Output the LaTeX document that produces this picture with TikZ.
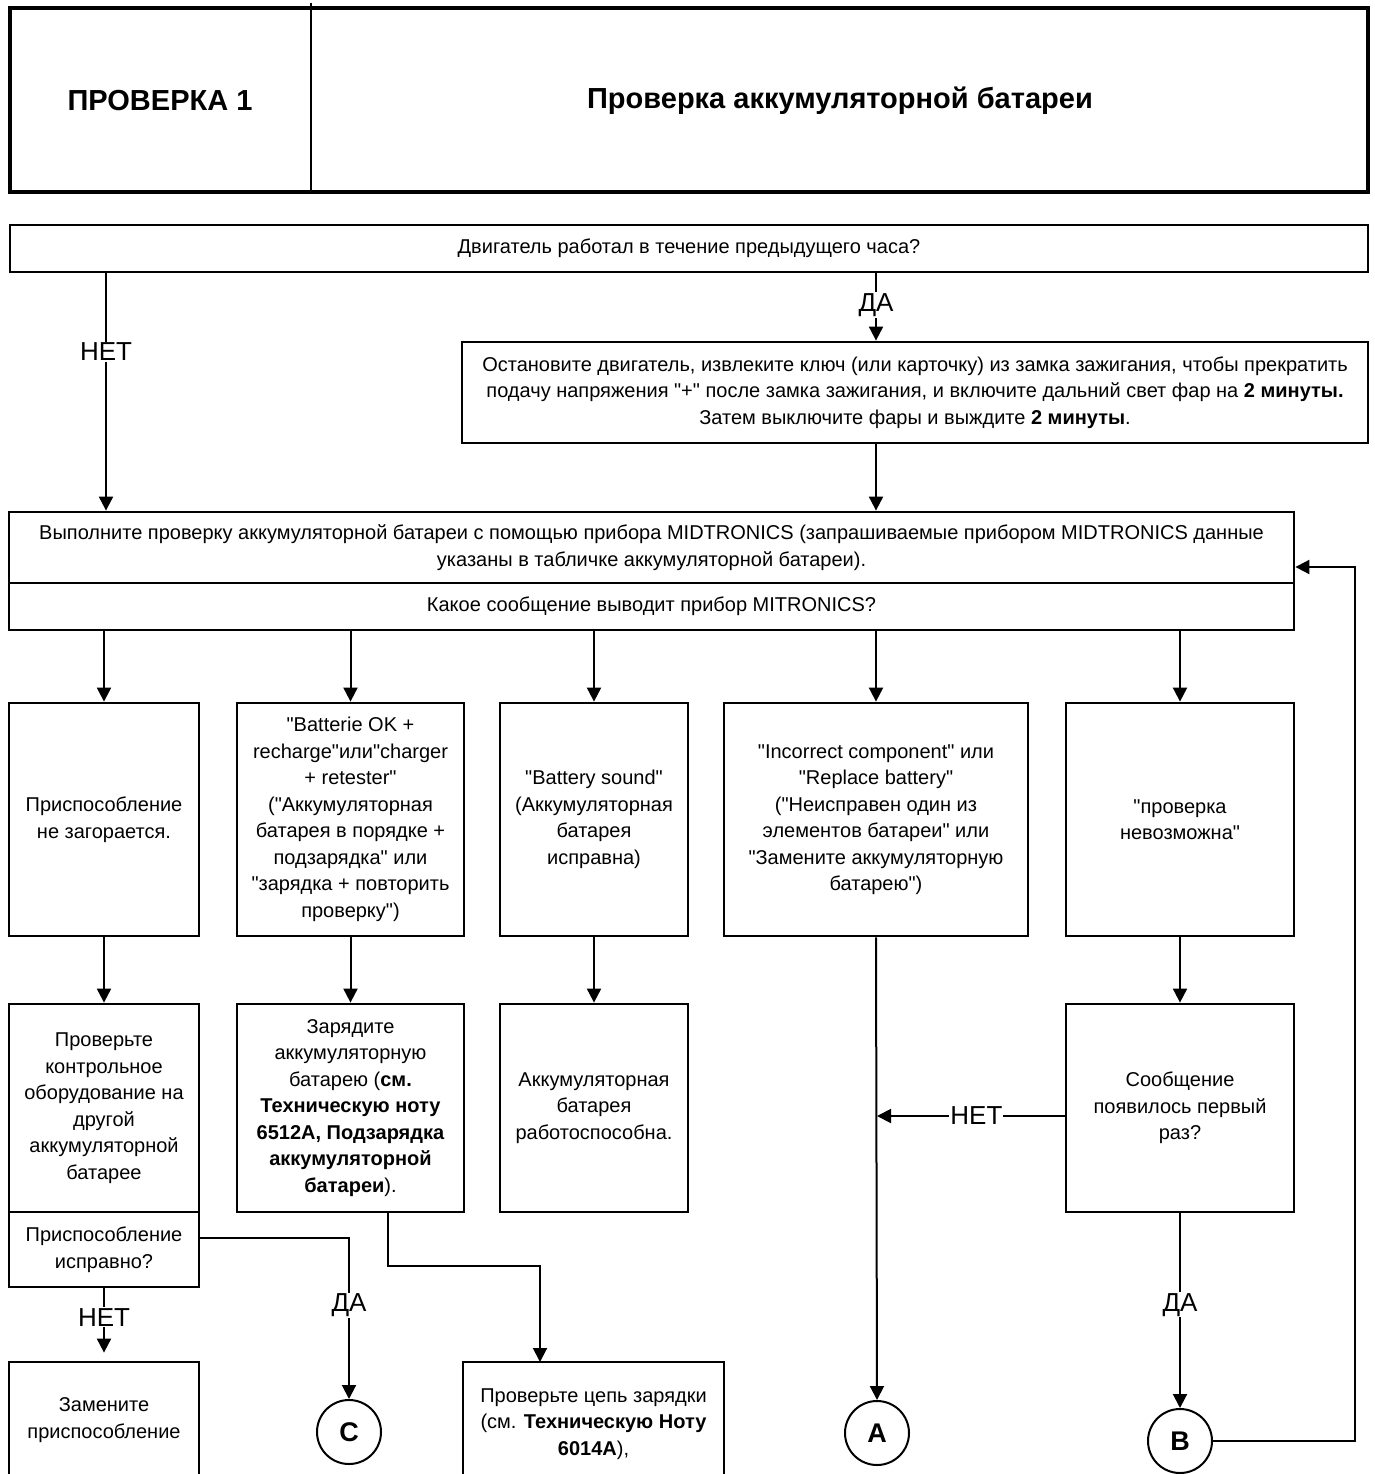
\documentclass[tikz,border=0pt]{standalone}
\usepackage{fontspec}
\setmainfont{Liberation Sans}[Ligatures=TeXOff]
\usetikzlibrary{arrows.meta}
\newcommand{\boxtext}{\fontsize{20}{26.5}\selectfont}
\newcommand{\labeltext}{\fontsize{26}{28}\selectfont}
\newcommand{\headtext}{\fontsize{29}{32}\selectfont\bfseries}

\begin{document}
\begin{tikzpicture}[x=1pt, y=-1pt,
  box/.style={draw, line width=2.8pt, align=center, inner sep=0pt, font=\boxtext},
  link/.style={line width=2pt},
  arr/.style={link, -{Triangle[width=14pt,length=14pt]}},
  lbl/.style={fill=white, inner sep=1pt, font=\labeltext},
  conn/.style={draw, circle, line width=2pt, minimum size=64pt, inner sep=0pt,
    font=\fontsize{27}{30}\selectfont\bfseries}]
  \useasboundingbox (0,0) rectangle (1375,1474);
  \clip (0,0) rectangle (1375,1474);

  % -=-=-=-=- HEADER -=-=-=-=-
  \node[box, line width=3.2pt, minimum width=1358, minimum height=184] (head) at (689,100) {};
  \coordinate (split) at (311,3);
  \draw[line width=2pt] (split) -- (split |- head.south);
  \node[font=\headtext] (num) at (160,101) {ПРОВЕРКА 1};
  \node[font=\headtext] (title) at (840,101) {Проверка аккумуляторной батареи};

  % -=-=-=-=- QUESTION AND TEST -=-=-=-=-
  \node[box, minimum width=1358, minimum height=47] (q) at (689,248.5)
    {Двигатель работал в течение предыдущего часа?};
  \node[box, minimum width=906, minimum height=101] (stop) at (915,392.5)
    {Остановите двигатель, извлеките ключ (или карточку) из замка зажигания, чтобы прекратить\\
     подачу напряжения "+" после замка зажигания, и включите дальний свет фар на \textbf{2 минуты.}\\
     Затем выключите фары и выждите \textbf{2 минуты}.};
  \node[box, minimum width=1285, minimum height=71] (midt) at (651.5,547.5)
    {Выполните проверку аккумуляторной батареи с помощью прибора MIDTRONICS (запрашиваемые прибором MIDTRONICS данные\\
     указаны в табличке аккумуляторной батареи).};
  \node[box, minimum width=1285, minimum height=47] (msg) at (651.5,606.5)
    {Какое сообщение выводит прибор MITRONICS?};

  % -=-=-=-=- FIRST ROW -=-=-=-=-
  \node[box, minimum width=190, minimum height=233] (a) at (104,819.5)
    {Приспособление\\ не загорается.};
  \node[box, minimum width=227, minimum height=233] (b) at (350.5,819.5)
    {"Batterie OK +\\ recharge"или"charger\\ + retester"\\ ("Аккумуляторная\\ батарея в порядке +\\ подзарядка" или\\ "зарядка + повторить\\ проверку")};
  \node[box, minimum width=188, minimum height=233] (c) at (594,819.5)
    {"Battery sound"\\ (Аккумуляторная\\ батарея\\ исправна)};
  \node[box, minimum width=304, minimum height=233] (d) at (876,819.5)
    {"Incorrect component" или\\ "Replace battery"\\ ("Неисправен один из\\ элементов батареи" или\\ "Замените аккумуляторную\\ батарею")};
  \node[box, minimum width=228, minimum height=233] (e) at (1180,819.5)
    {"проверка\\ невозможна"};

  % -=-=-=-=- SECOND ROW -=-=-=-=-
  \node[box, minimum width=190, minimum height=208] (f) at (104,1108)
    {Проверьте\\ контрольное\\ оборудование на\\ другой\\ аккумуляторной\\ батарее};
  \node[box, minimum width=190, minimum height=75] (g) at (104,1249.5)
    {Приспособление\\ исправно?};
  \node[box, minimum width=227, minimum height=208] (h) at (350.5,1108)
    {Зарядите\\ аккумуляторную\\ батарею (\textbf{см.}\\ \textbf{Техническую ноту}\\ \textbf{6512A, Подзарядка}\\ \textbf{аккумуляторной}\\ \textbf{батареи}).};
  \node[box, minimum width=188, minimum height=208] (i) at (594,1108)
    {Аккумуляторная\\ батарея\\ работоспособна.};
  \node[box, minimum width=228, minimum height=208] (j) at (1180,1108)
    {Сообщение\\ появилось первый\\ раз?};

  % -=-=-=-=- LAST ROW -=-=-=-=-
  \node[box, minimum width=190, minimum height=116] (k) at (104,1420)
    {Замените\\ приспособление};
  \node[box, minimum width=261, minimum height=124] (l) at (593.5,1424)
    {Проверьте цепь зарядки\\ (см. \textbf{Техническую Ноту}\\ \textbf{6014A}),};
  \node[conn] (C) at (349,1432) {C};
  \node[conn] (A) at (877,1433) {A};
  \node[conn] (B) at (1180,1441) {B};

  % -=-=-=-=- CONNECTORS -=-=-=-=-
  \draw[arr] (q.south -| 106,0) -- node[lbl, pos=0.33] {НЕТ} (midt.north -| 106,0);
  \draw[arr] (q.south -| d.north) -- node[lbl, pos=0.47] {ДА} (stop.north -| d.north);
  \draw[arr] (stop.south -| d.north) -- (midt.north -| d.north);
  \foreach \n in {a,b,c,d,e}
    \draw[arr] (msg.south -| \n.north) -- (\n.north);
  \foreach \u/\v in {a/f,b/h,c/i,e/j}
    \draw[arr] (\u.south) -- (\v.north);
  \draw[arr] (d.south) -- (A.north);
  \draw[arr] ([yshift=-8pt]j.west) -- node[lbl, pos=0.47] {НЕТ} ([yshift=-8pt]j.west -| A.north);
  \draw[arr] (j.south) -- node[lbl, pos=0.47] {ДА} (B.north);
  \coordinate (loop) at (1355,567);
  \draw[arr] (B.east) -| (loop) -- (loop -| midt.east);
  \draw[arr, shorten >=8pt] (g.south) -- node[lbl, pos=0.4] {НЕТ} (k.north);
  \draw[arr] ([yshift=12pt]g.east) -| node[lbl, pos=0.71] {ДА} (C.north);
  \coordinate (jog) at (388,1266);
  \coordinate (drop) at (540,1362);
  \draw[arr] (h.south -| jog) -- (jog) -| (drop);
\end{tikzpicture}
\end{document}
